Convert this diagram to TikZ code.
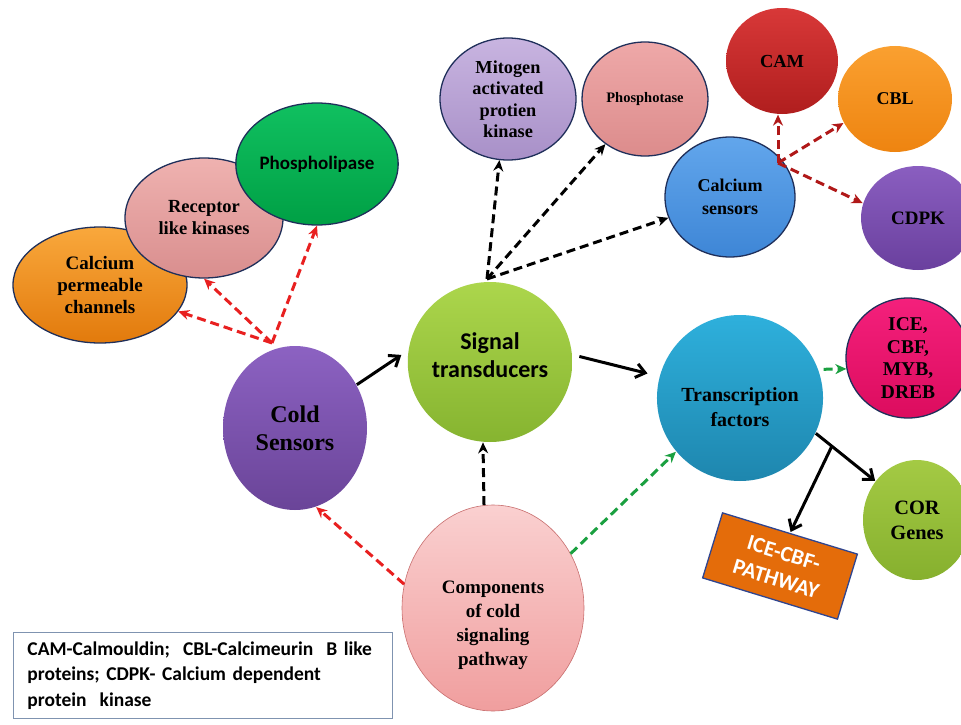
\documentclass[tikz,border=0pt]{standalone}
\usepackage{fontspec}
\setmainfont{Liberation Serif}
\newfontfamily\calib{Carlito}
\usetikzlibrary{arrows.meta,shapes.geometric,calc}
\definecolor{navyline}{HTML}{1F2F5A}
\definecolor{darkred}{HTML}{B01818}
\definecolor{redd}{HTML}{E82020}
\definecolor{greend}{HTML}{1AA040}
\definecolor{legline}{HTML}{7F93B0}
\definecolor{boxorange}{HTML}{E46C0A}
\definecolor{boxline}{HTML}{2F4590}
\definecolor{compline}{HTML}{C86E6E}
\newcommand\lowtext[2]{\raisebox{-#1}[0pt][0pt]{\begin{tabular}{@{}c@{}}#2\end{tabular}}}
\tikzset{
  bub/.style={ellipse, draw=navyline, line width=1.3pt, inner sep=0pt, align=center},
  sz/.style 2 args={minimum width=#1, minimum height=#2},
  fs/.style 2 args={font=\bfseries\fontsize{#1}{#2}\selectfont},
  sfs/.style 2 args={font=\calib\bfseries\fontsize{#1}{#2}\selectfont},
  sh/.style 2 args={/utils/exec={\definecolor{tc#1}{HTML}{#1}\definecolor{bc#2}{HTML}{#2}}, top color=tc#1, bottom color=bc#2},
  dsh/.style={line width=3pt, dash pattern=on 9pt off 5pt, -{Stealth[length=11pt,width=10pt]}},
  rdash/.style={dsh, draw=redd, color=redd},
  kdash/.style={dsh, draw=black},
  drdash/.style={dsh, draw=darkred, color=darkred},
  gdash/.style={dsh, draw=greend, color=greend},
  solid arrow/.style={line width=3pt, -{Straight Barb[length=9pt,width=14pt,line width=3pt]}},
}
\begin{document}
\begin{tikzpicture}[x=1pt,y=-1pt]
\useasboundingbox (0,0) rectangle (961,725);
\fill[white] (0,0) rectangle (961,725);

% left cluster
\node[bub, sh={F9A83C}{E27A0C}, sz={174}{116}, fs={19}{22}] (cpc) at (100,285) {Calcium\\permeable\\channels};
\node[bub, sh={EFB2B0}{D98E8E}, sz={158}{120}, fs={18.5}{22}] (rlk) at (204,218) {Receptor\\like kinases};
\node[bub, sh={10C060}{00A045}, sz={128}{122}, sfs={19}{21}] (phl) at (317,164) {Phospholipase};

% top cluster
\node[bub, sh={C8B4E0}{A890C8}, sz={136}{122}, fs={18.3}{21.5}] (mit) at (508,99) {Mitogen\\activated\\protien\\kinase};
\node[bub, sh={EEA8A8}{DC8C8C}, sz={126}{114}, fs={14.5}{17}] (pho) at (645,99) {Phosphotase};
\node[bub, sh={D83838}{B01E1E}, draw=none, sz={112}{106}, fs={18.4}{21}] (cam) at (782,61) {CAM};
\node[bub, sh={FAA030}{EE8410}, draw=none, sz={114}{106}, fs={18}{21}] (cbl) at (895,99) {CBL};
\node[bub, sh={62A6EC}{3E86D6}, sz={130}{120}, fs={18}{23}] (cse) at (730,197) {Calcium\\sensors};
\node[bub, sh={8A5EC0}{6A409E}, draw=none, sz={114}{104}, fs={19}{22}] (cdpk) at (918,218) {CDPK};

% main
\node[bub, sh={8C62C2}{6A4498}, draw=none, sz={144}{164}, fs={24}{28}] (cold) at (295,428) {Cold\\Sensors};
\node[bub, sh={ACD64C}{86B430}, draw=none, sz={144}{160}, sfs={24}{28}] (sig) at (490,362) {\lowtext{2pt}{Signal\\transducers}};
\node[bub, sh={2EB0DC}{1E86AE}, draw=none, sz={146}{166}, fs={20}{25}] (tf) at (740,398) {\lowtext{16pt}{Transcription\\factors}};
\node[bub, sh={F4207C}{DC0C5E}, sz={124}{120}, fs={19.5}{22.7}] (ice) at (908,358) {ICE,\\CBF,\\MYB,\\DREB};
\node[bub, sh={A4CA44}{86B02E}, draw=none, sz={108}{120}, fs={20.4}{25}] (cor) at (917,520) {COR\\Genes};
\node[bub, sh={FAD0D0}{F09E9E}, draw=compline, line width=0.6pt, sz={182}{206}, fs={19}{24}] (comp) at (493,608) {\lowtext{21pt}{Components\\of cold\\signaling\\pathway}};

\node[rectangle, draw=boxline, line width=1.3pt, fill=boxorange, rotate=-17,
      minimum width=141, minimum height=68, inner sep=0pt, align=center, text=white, sfs={22}{27}] (box) at (780,566) {ICE-CBF-\\PATHWAY};

% legend
\node[rectangle, draw=legline, line width=0.9pt, anchor=north west, minimum height=86,
      inner xsep=14pt, text width=351pt, align=left, font=\calib\bfseries\fontsize{19.5}{25.5}\selectfont] (leg) at (13,632)
      {\mbox{CAM-Calmouldin;\ \ CBL-Calcimeurin\ \ B like}\\\mbox{proteins; CDPK- Calcium dependent}\\\mbox{protein\ \ kinase}};

% origin points
\coordinate (cso) at (272,343);
\coordinate (sgo) at (487,279);
\coordinate (cao) at (778,163);

% red dashed from cold sensors
\draw[rdash] (cso) -- (cpc);
\draw[rdash] (cso) -- (rlk.south);
\draw[rdash] (cso) -- (phl.south);

% black dashed from signal transducers
\draw[kdash] (sgo) -- (mit.262);
\draw[kdash] (sgo) -- (pho);
\draw[kdash] (sgo) -- (cse);

% dark red from calcium sensors
\draw[drdash] (cao) -- (cam.south -| cao);
\draw[drdash] (cao) -- (cbl.205);
\draw[drdash] (cao) -- (cdpk.165);

% solid black
\draw[solid arrow, shorten >=8pt] (cold.35) -- (sig.172);
\draw[solid arrow, shorten <=7pt, shorten >=12pt] (sig.5) -- (tf.165);
\draw[solid arrow] (tf.-25) -- (cor.137);
\coordinate (br) at ($(tf.-25)!0.27!(cor.137)$);
\draw[solid arrow, shorten >=1pt] (br) -- (box.north);

% from components
\draw[kdash] (comp.95) -- (sig.265);
\draw[rdash] (comp.165) -- (cold.-75);
\draw[gdash] (comp.35) -- (tf.220);
\draw[gdash, shorten <=5pt] (tf.20) -- (ice.190);
\end{tikzpicture}
\end{document}
